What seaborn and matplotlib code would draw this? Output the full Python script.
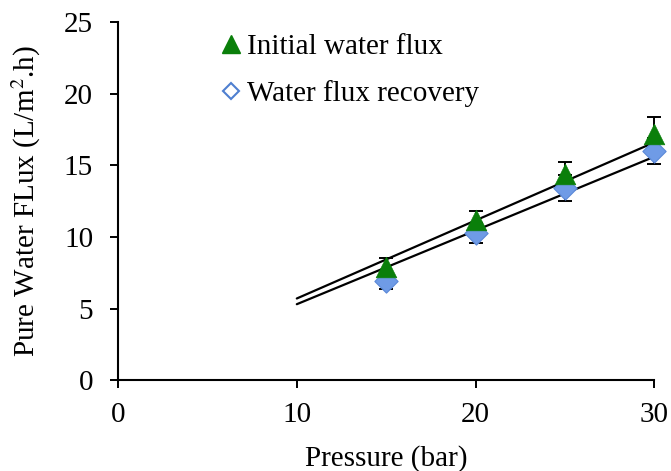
import numpy as np
import pandas as pd
import matplotlib
matplotlib.use("Agg")
import matplotlib.pyplot as plt
from matplotlib.lines import Line2D
import seaborn as sns

# Measured fluxes (L/m².h) at each operating pressure (bar)
pressure = [15, 20, 25, 30]
initial_flux = [7.9, 11.2, 14.4, 17.2]
initial_err = [0.6, 0.6, 0.8, 1.2]
recovery_flux = [6.9, 10.3, 13.4, 16.0]
recovery_err = [0.55, 0.7, 0.9, 0.9]

# Linear trendlines (slope, intercept) drawn over the 10–30 bar range
trend_range = [10, 30]
initial_trend = (0.545, 0.25)
recovery_trend = (0.515, 0.15)

sns.set_theme(style="ticks")
plt.rcParams["font.family"] = ["Liberation Serif", "DejaVu Serif"]
plt.rcParams["mathtext.fontset"] = "stix"
for key in ("text.color", "axes.labelcolor", "xtick.color", "ytick.color"):
    plt.rcParams[key] = "black"

FS = 21

fig = plt.figure(figsize=(6.71, 4.71), dpi=100)
ax = fig.add_axes([0.176, 0.193, 0.799, 0.76])

df = pd.DataFrame({
    "Pressure": pressure * 2,
    "Flux": initial_flux + recovery_flux,
    "Series": ["Initial water flux"] * 4 + ["Water flux recovery"] * 4,
})

# Trendlines
tx = np.array(trend_range, dtype=float)
for slope, icpt in (initial_trend, recovery_trend):
    sns.lineplot(x=tx, y=slope * tx + icpt, color="black", lw=1.6, ax=ax, zorder=2)

# Error bars
for flux, err in ((recovery_flux, recovery_err), (initial_flux, initial_err)):
    eb = ax.errorbar(pressure, flux, yerr=err, fmt="none", ecolor="black",
                     elinewidth=1.4, capsize=5, capthick=1.4, zorder=1)
    for art in eb.lines[1] + eb.lines[2]:
        art.set_clip_on(False)

# Markers
sns.scatterplot(data=df[df.Series == "Water flux recovery"], x="Pressure", y="Flux",
                marker="D", s=140, color="#6f9be6", edgecolor="#5a88d8", linewidth=0.8,
                ax=ax, zorder=3, legend=False, clip_on=False)
sns.scatterplot(data=df[df.Series == "Initial water flux"], x="Pressure", y="Flux",
                marker="^", s=220, color="#0a7f0a", edgecolor="#0a7f0a", linewidth=0.5,
                ax=ax, zorder=4, legend=False, clip_on=False)

ax.set_xlim(0, 30)
ax.set_ylim(0, 25)
ax.set_xticks([0, 10, 20, 30])
ax.set_yticks([0, 5, 10, 15, 20, 25])
ax.tick_params(axis="both", direction="out", length=6, width=1.4, colors="black",
               labelsize=FS)
ax.tick_params(axis="x", pad=10)
ax.tick_params(axis="y", pad=12)
for side in ("top", "right"):
    ax.spines[side].set_visible(False)
for side in ("left", "bottom"):
    ax.spines[side].set_color("black")
    ax.spines[side].set_linewidth(1.5)

ax.set_xlabel("Pressure (bar)", fontsize=FS, color="black", labelpad=12)
ax.set_ylabel("Pure Water FLux (L/m$^2$.h)", fontsize=FS, color="black", labelpad=15)

handles = [
    Line2D([], [], marker="^", ls="none", color="#0a7f0a", markersize=13),
    Line2D([], [], marker="D", ls="none", markerfacecolor="white",
           markeredgecolor="#4f7fd0", markeredgewidth=1.5, markersize=8),
]
ax.legend(handles, ["Initial water flux", "Water flux recovery"], loc="upper left",
          bbox_to_anchor=(0.145, 1.04), frameon=False, fontsize=FS,
          handlelength=0.6, handletextpad=0.25, labelspacing=0.68)

fig.savefig("out.png", dpi=100)
